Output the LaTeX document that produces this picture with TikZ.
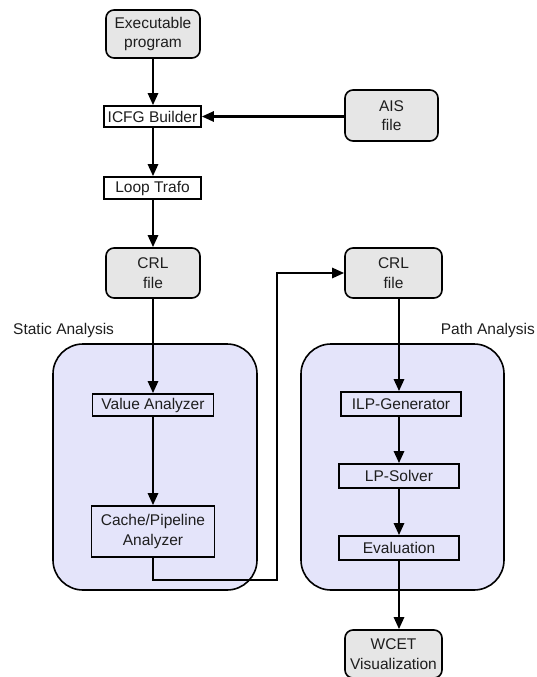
\documentclass[tikz,border=0pt]{standalone}
\usepackage{fontspec}
\setmainfont{Liberation Sans}
\usetikzlibrary{arrows.meta,calc}
\definecolor{boxgray}{RGB}{230,230,230}
\definecolor{stagefill}{RGB}{228,228,250}
\definecolor{inktext}{RGB}{30,30,30}
\tikzset{
  every node/.style={font=\fontsize{15.5}{19.5}\selectfont, text=inktext, align=center, inner sep=0pt},
  filebox/.style={draw, line width=1.6pt, rounded corners=8pt, fill=boxgray},
  toolbox/.style={draw, line width=1.6pt, fill=white},
  stagebox/.style={draw, line width=1.6pt},
  stage/.style={draw, line width=1.6pt, rounded corners=30pt, fill=stagefill},
  flow/.style={line width=2.6pt, -{Triangle[length=12pt,width=10pt]}},
}
\begin{document}
\begin{tikzpicture}[x=1pt,y=-1pt]
\useasboundingbox (0,0) rectangle (537,677);

% analysis stages (drawn first, behind the tools)
\node[stage, minimum width=204pt, minimum height=246pt] (static) at (155,467) {};
\node[stage, minimum width=203pt, minimum height=246pt] (path) at (402.5,467) {};
\node[anchor=west] (staticlbl) at (13,330) {Static Analysis};
\node[anchor=east] (pathlbl) at (535,330) {Path Analysis};

% input and intermediate files
\node[filebox, minimum width=94pt, minimum height=48pt] (exe) at (153,34) {Executable\\program};
\node[filebox, minimum width=93pt, minimum height=51pt] (ais) at (391.5,115.5) {AIS\\file};
\node[filebox, minimum width=94pt, minimum height=50pt] (crll) at (153,273) {CRL\\file};
\node[filebox, minimum width=97pt, minimum height=50pt] (crlr) at (393.5,273) {CRL\\file};
\node[filebox, minimum width=97pt, minimum height=48pt] (wcet) at (393.5,654) {WCET\\Visualization};

% front-end tools
\node[toolbox, minimum width=97pt, minimum height=21pt] (icfg) at (152.5,116.5) {ICFG Builder};
\node[toolbox, minimum width=97pt, minimum height=22pt] (loop) at (152.5,188) {Loop Trafo};

% static analysis tools
\node[stagebox, minimum width=121pt, minimum height=22pt] (value) at (153,405) {Value Analyzer};
\node[stagebox, minimum width=123pt, minimum height=51pt] (cache) at (153,531.5) {Cache/Pipeline\\Analyzer};

% path analysis tools
\node[stagebox, minimum width=120pt, minimum height=24pt] (ilp) at (401,404) {ILP-Generator};
\node[stagebox, minimum width=120pt, minimum height=24pt] (lps) at (399,476) {LP-Solver};
\node[stagebox, minimum width=120pt, minimum height=24pt] (eval) at (399,548) {Evaluation};

\coordinate (turnA) at (153,580);
\coordinate (turnB) at (277,580);

% data flow
\draw[flow] (exe.south) -- (icfg.north -| exe.south);
\draw[flow] (ais.west |- icfg.east) -- (icfg.east);
\draw[flow] (icfg.south -| exe.south) -- (loop.north -| exe.south);
\draw[flow] (loop.south -| exe.south) -- (crll.north);
\draw[flow] (crll.south) -- (value.north);
\draw[flow] (value.south) -- (cache.north);
\draw[flow] (cache.south) -- (turnA) -- (turnB) -- (turnB |- crlr.west) -- (crlr.west);
\draw[flow] ($(crlr.south)+(5.5,0)$) -- ($(crlr.south |- ilp.north)+(5.5,0)$);
\draw[flow] (ilp.south -| lps.north) -- (lps.north);
\draw[flow] (lps.south) -- (eval.north);
\draw[flow] (eval.south) -- (wcet.north -| eval.south);
\end{tikzpicture}
\end{document}
